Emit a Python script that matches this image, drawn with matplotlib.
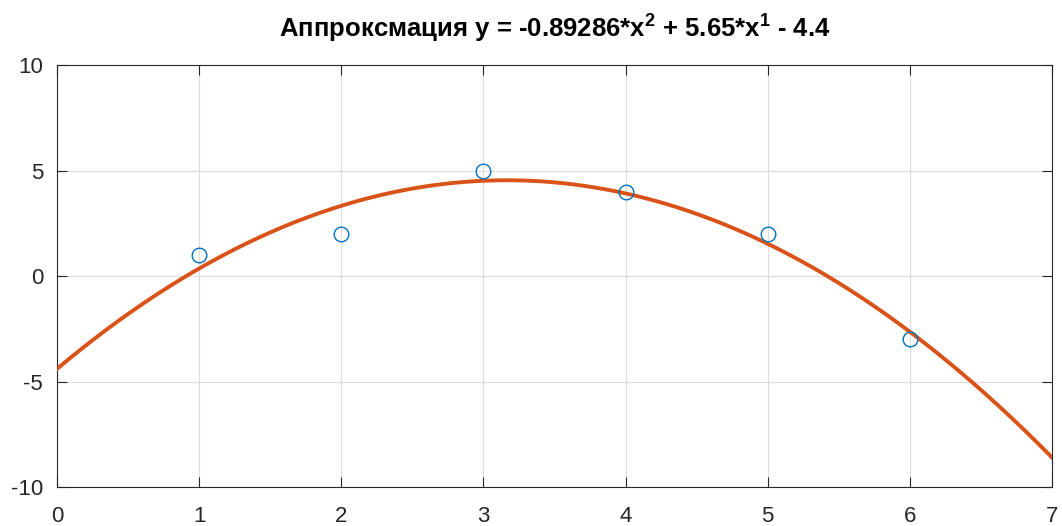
import numpy as np
import matplotlib.pyplot as plt

plt.rcParams["font.family"] = ["Liberation Sans", "DejaVu Sans"]
plt.rcParams["mathtext.fontset"] = "custom"
plt.rcParams["mathtext.rm"] = "Liberation Sans:bold"
plt.rcParams["mathtext.default"] = "rm"
plt.rcParams["axes.unicode_minus"] = False

# measured points
x_data = [1, 2, 3, 4, 5, 6]
y_data = [1, 2, 5, 4, 2, -3]

# coefficients shown in the title (highest power first)
coeffs = [-0.89286, 5.65, -4.4]

x_ticks = [0, 1, 2, 3, 4, 5, 6, 7]
y_ticks = [-10, -5, 0, 5, 10]


def main():
    fig = plt.figure(figsize=(10.62, 5.26), dpi=100)
    ax = fig.add_axes([0.0537, 0.0741, 0.9369, 0.8023])

    xs = np.linspace(x_ticks[0], x_ticks[-1], 400)
    ax.plot(xs, np.polyval(coeffs, xs), color="#D95319", lw=2.8, zorder=3)
    ax.plot(x_data, y_data, "o", mfc="none", mec="#0072BD", ms=10.5, mew=1.0,
            zorder=4)

    ax.set_xlim(x_ticks[0], x_ticks[-1])
    ax.set_ylim(y_ticks[0], y_ticks[-1])
    ax.set_xticks(x_ticks)
    ax.set_yticks(y_ticks)
    ax.grid(True, color="#dcdcdc", lw=0.8)
    ax.set_axisbelow(True)

    ax.tick_params(direction="in", length=7, width=0.8, top=True, right=True,
                   labelsize=16, colors="#262626", pad=10)
    ax.tick_params(axis="x", pad=14)
    for s in ax.spines.values():
        s.set_color("#262626")
        s.set_linewidth(0.8)

    title = "Аппроксмация y = {}*x$^{{2}}$ + {}*x$^{{1}}$ - {}".format(
        coeffs[0], coeffs[1], -coeffs[2])
    ax.set_title(title, fontsize=18.5, fontweight="bold", pad=20)

    fig.savefig("out.png", dpi=100)


if __name__ == "__main__":
    main()
